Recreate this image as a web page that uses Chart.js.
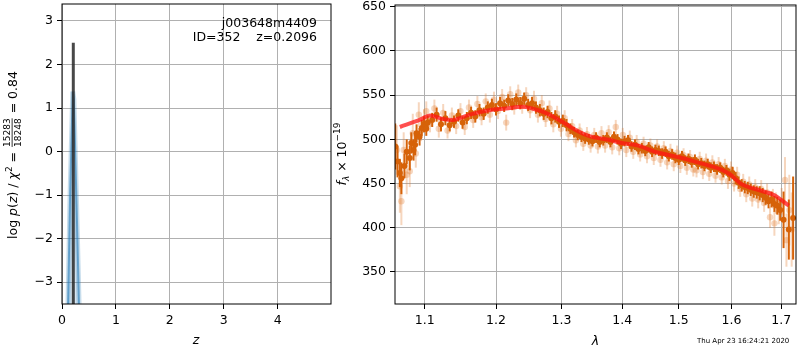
<!DOCTYPE html>
<html>
<head>
<meta charset="utf-8">
<script src="https://cdn.jsdelivr.net/npm/chart.js@4.4.1/dist/chart.umd.min.js"></script>
<style>
  html, body { margin: 0; padding: 0; background: #fff; }
  #wrap { position: relative; width: 800px; height: 350px; overflow: hidden; }
  #pzBox { position: absolute; left: 0; top: 0; width: 340px; height: 350px; }
  #specBox { position: absolute; left: 330px; top: 0; width: 470px; height: 350px; }
</style>
</head>
<body>
<div id="wrap">
  <div id="pzBox"><canvas id="pz" width="340" height="350"></canvas></div>
  <div id="specBox"><canvas id="spec" width="470" height="350"></canvas></div>
</div>
<script>
// ---- p(z) panel ----
const zGrid = [0.10, 0.15, 0.20, 0.22, 0.27, 0.33];
const logPz = [-4.3, -1.0, 1.38, 1.2, -1.2, -4.2];
const zBest = 0.2096;
const zBestLine = [-3.6, 2.5];
const pzXTicks = [0, 1, 2, 3, 4];
const pzYTicks = [-3, -2, -1, 0, 1, 2, 3];

// ---- spectrum panel ----
// combined spectrum (dark points)
const combWave = [
  1.061, 1.064, 1.067, 1.069, 1.073, 1.076, 1.080, 1.082, 1.085, 1.087,
  1.089, 1.093, 1.096, 1.099, 1.102, 1.104, 1.110, 1.116, 1.122, 1.128,
  1.134, 1.140, 1.146, 1.152, 1.158, 1.164, 1.170, 1.176, 1.182, 1.188,
  1.194, 1.200, 1.206, 1.212, 1.218, 1.224, 1.230, 1.236, 1.242, 1.248,
  1.254, 1.260, 1.266, 1.272, 1.278, 1.284, 1.290, 1.296, 1.302, 1.308,
  1.314, 1.320, 1.326, 1.332, 1.338, 1.344, 1.350, 1.356, 1.362, 1.368,
  1.374, 1.380, 1.386, 1.392, 1.398, 1.404, 1.410, 1.416, 1.422, 1.428,
  1.434, 1.440, 1.446, 1.452, 1.458, 1.464, 1.470, 1.476, 1.482, 1.488,
  1.494, 1.500, 1.506, 1.512, 1.518, 1.524, 1.530, 1.536, 1.542, 1.548,
  1.554, 1.560, 1.566, 1.572, 1.578, 1.584, 1.590, 1.596, 1.602, 1.608,
  1.614, 1.620, 1.626, 1.632, 1.638, 1.644, 1.650, 1.656, 1.662, 1.668,
  1.674, 1.680, 1.686, 1.692, 1.698, 1.705, 1.716, 1.725
];
const combFlux = [
  492, 475, 462, 456, 470, 486, 479, 496, 488, 494,
  507, 503, 513, 517, 512, 519, 522, 528, 517, 524,
  516, 520, 527, 519, 524, 530, 526, 533, 529, 536,
  539, 534, 541, 538, 544, 540, 545, 541, 546, 539,
  541, 536, 533, 529, 531, 524, 526, 520, 521, 516,
  512, 508, 505, 503, 501, 500, 498, 502, 497, 499,
  502, 497, 503, 500, 495, 498, 499, 492, 494, 489,
  490, 487, 491, 486, 488, 487, 484, 486, 481, 483,
  479, 477, 481, 476, 478, 474, 477, 472, 473, 470,
  472, 468, 469, 466, 468, 463, 465, 460, 462, 456,
  451, 448, 446, 445, 443, 441, 440, 439, 437, 434,
  430, 432, 427, 425, 420, 409, 398, 411
];
const combErr = [
  26, 18, 16, 18, 14, 14, 14, 12, 12, 12,
  10, 10, 9, 9, 8, 8, 8, 8, 8, 8,
  7, 7, 7, 7, 7, 7, 7, 7, 7, 7,
  7, 7, 7, 7, 7, 7, 7, 7, 7, 7,
  7, 7, 7, 7, 7, 7, 7, 7, 7, 7,
  6, 6, 6, 6, 6, 6, 6, 6, 6, 6,
  6, 6, 6, 6, 6, 6, 6, 6, 6, 6,
  6, 6, 6, 6, 6, 6, 6, 6, 6, 6,
  6, 6, 6, 6, 6, 6, 6, 6, 6, 6,
  6, 6, 6, 6, 6, 6, 6, 7, 7, 7,
  7, 7, 7, 7, 7, 7, 7, 8, 8, 8,
  8, 9, 9, 10, 12, 32, 34, 47
];

// individual beam spectra (light points)
const beamWave = [
  1.063, 1.067, 1.069, 1.072, 1.076, 1.080, 1.084, 1.088, 1.092, 1.095,
  1.099, 1.102, 1.107, 1.113, 1.119, 1.125, 1.131, 1.137, 1.143, 1.149,
  1.155, 1.161, 1.167, 1.173, 1.179, 1.185, 1.191, 1.197, 1.203, 1.209,
  1.215, 1.221, 1.227, 1.233, 1.239, 1.245, 1.251, 1.257, 1.263, 1.269,
  1.275, 1.281, 1.287, 1.293, 1.299, 1.305, 1.311, 1.317, 1.323, 1.329,
  1.335, 1.341, 1.347, 1.353, 1.359, 1.365, 1.371, 1.377, 1.383, 1.389,
  1.395, 1.401, 1.407, 1.413, 1.419, 1.425, 1.431, 1.437, 1.443, 1.449,
  1.455, 1.461, 1.467, 1.473, 1.479, 1.485, 1.491, 1.497, 1.503, 1.509,
  1.515, 1.521, 1.527, 1.533, 1.539, 1.545, 1.551, 1.557, 1.563, 1.569,
  1.575, 1.581, 1.587, 1.593, 1.599, 1.605, 1.611, 1.617, 1.623, 1.629,
  1.635, 1.641, 1.647, 1.653, 1.659, 1.665, 1.671, 1.677, 1.683, 1.686,
  1.689, 1.695, 1.701, 1.708, 1.711, 1.717, 1.722
];
const beamFlux = [
  488, 447, 430, 488, 460, 464, 507, 484, 528, 510,
  522, 532, 518, 535, 512, 530, 510, 527, 515, 532,
  514, 536, 522, 540, 525, 543, 528, 545, 532, 548,
  519, 551, 537, 553, 538, 550, 533, 546, 528, 541,
  523, 535, 517, 529, 512, 524, 506, 515, 499, 510,
  495, 506, 493, 505, 492, 507, 493, 508, 491, 514,
  490, 505, 488, 502, 486, 497, 483, 495, 481, 493,
  479, 492, 477, 490, 474, 487, 472, 485, 470, 482,
  468, 480, 466, 465, 478, 463, 476, 461, 474, 459,
  472, 457, 470, 453, 466, 450, 460, 444, 452, 438,
  449, 433, 446, 432, 444, 428, 440, 412, 433, 405,
  428, 418, 430, 454, 386, 420, 398
];
const beamErr = [
  28, 30, 27, 20, 22, 18, 22, 16, 14, 12,
  12, 11, 10, 10, 10, 10, 9, 9, 9, 9,
  9, 9, 9, 9, 9, 9, 9, 9, 9, 9,
  9, 9, 9, 9, 9, 9, 9, 9, 9, 9,
  9, 9, 9, 9, 9, 9, 8, 8, 8, 8,
  8, 8, 8, 8, 8, 8, 8, 8, 8, 8,
  8, 8, 8, 8, 8, 8, 8, 8, 8, 8,
  8, 8, 8, 8, 8, 8, 8, 8, 8, 8,
  8, 8, 8, 8, 8, 8, 8, 8, 8, 8,
  8, 8, 8, 9, 9, 9, 9, 9, 9, 9,
  9, 9, 9, 10, 10, 10, 10, 12, 11, 14,
  12, 14, 15, 26, 30, 40, 42
];

// best-fit template
const modelWave = [1.067, 1.093, 1.107, 1.125, 1.138, 1.162, 1.190, 1.215, 1.239, 1.254,
  1.275, 1.301, 1.322, 1.344, 1.377, 1.399, 1.428, 1.457, 1.499, 1.535,
  1.579, 1.598, 1.618, 1.658, 1.685, 1.716];
const modelFlux = [514, 522, 527, 523, 522, 528, 533, 535, 537, 535,
  530, 520, 511, 504, 499.5, 496, 493, 486, 480, 474,
  466, 460, 450, 442, 437, 425];

const specXTicks = [1.1, 1.2, 1.3, 1.4, 1.5, 1.6, 1.7];
const specYTicks = [350, 400, 450, 500, 550, 600, 650];

const objName = 'j003648m4409';
const objInfo = 'ID=352    z=0.2096';
const chi2Num = '15283', chi2Den = '18248', chi2Val = '0.84';
const stamp = 'Thu Apr 23 16:24:21 2020';

// ---- helpers ----
const FAM = '"DejaVu Sans"';
const fMain = '12.5px ' + FAM;
const fIt = 'italic 12.5px ' + FAM;
const fSmall = '9px ' + FAM;
const fSmallIt = 'italic 9px ' + FAM;

const minus = v => String(v).replace('-', '\u2212');

function pts(xs, ys) {
  return xs.map((x, i) => ({ x: x, y: ys[i] }));
}

function fixedTicks(list) {
  return function (scale) { scale.ticks = list.map(v => ({ value: v })); };
}

// fixed axis thickness, and no extra label padding around the plot box
function fitAxis(size) {
  return function (s) {
    if (s.isHorizontal()) s.height = size; else s.width = size;
    s.paddingTop = 0; s.paddingBottom = 0; s.paddingLeft = 0; s.paddingRight = 0;
  };
}

function runWidth(ctx, r) {
  ctx.font = r.font;
  if (r.frac) {
    return Math.max(ctx.measureText(r.frac[0]).width, ctx.measureText(r.frac[1]).width) + 2;
  }
  return ctx.measureText(r.text).width;
}

// draws a sequence of text runs rotated by -90 deg, centred on (cx, cy), baseline at cx
function drawVertical(ctx, cx, cy, runs) {
  ctx.save();
  ctx.translate(cx, cy);
  ctx.rotate(-Math.PI / 2);
  ctx.fillStyle = '#000';
  ctx.textBaseline = 'alphabetic';
  ctx.textAlign = 'left';
  let total = 0;
  runs.forEach(r => { total += runWidth(ctx, r); });
  let x = -total / 2;
  runs.forEach(r => {
    const w = runWidth(ctx, r);
    ctx.font = r.font;
    if (r.frac) {
      ctx.textAlign = 'center';
      ctx.fillText(r.frac[0], x + w / 2, -7.5);
      ctx.fillText(r.frac[1], x + w / 2, 3.5);
      ctx.fillRect(x + 1, -5.3, w - 2, 0.8);
      ctx.textAlign = 'left';
    } else {
      ctx.fillText(r.text, x, r.dy || 0);
    }
    x += w;
  });
  ctx.restore();
}

function frame(ctx, a) {
  ctx.save();
  ctx.strokeStyle = '#000';
  ctx.lineWidth = 1;
  ctx.strokeRect(a.left, a.top, a.right - a.left, a.bottom - a.top);
  ctx.restore();
}

const errorBars = {
  id: 'errorBars',
  beforeDatasetDraw(chart, args) {
    const ds = chart.data.datasets[args.index];
    if (!ds.errors) return;
    const { ctx, chartArea, scales } = chart;
    ctx.save();
    ctx.beginPath();
    ctx.rect(chartArea.left, chartArea.top, chartArea.right - chartArea.left, chartArea.bottom - chartArea.top);
    ctx.clip();
    ctx.strokeStyle = ds.errorColor;
    ctx.lineWidth = ds.errorWidth;
    ds.data.forEach((p, i) => {
      const x = scales.x.getPixelForValue(p.x);
      const y1 = scales.y.getPixelForValue(p.y - ds.errors[i]);
      const y2 = scales.y.getPixelForValue(p.y + ds.errors[i]);
      ctx.beginPath();
      ctx.moveTo(x, y1);
      ctx.lineTo(x, y2);
      ctx.stroke();
    });
    ctx.restore();
  }
};

function axisStyle(extra) {
  return Object.assign({
    grid: { color: '#b0b0b0', lineWidth: 1, tickLength: 5, tickColor: '#000', drawTicks: true },
    border: { display: false },
    ticks: { color: '#000', font: { family: 'DejaVu Sans', size: 12.5 }, padding: 4,
      maxRotation: 0, autoSkip: false }
  }, extra);
}

Chart.defaults.font.family = 'DejaVu Sans';

// ---- left: p(z) ----
const pzDecor = {
  id: 'pzDecor',
  afterDraw(chart) {
    const ctx = chart.ctx;
    frame(ctx, chart.chartArea);
    ctx.save();
    ctx.fillStyle = '#000';
    ctx.font = fMain;
    ctx.textAlign = 'right';
    ctx.fillText(objName, 317, 27);
    ctx.fillText(objInfo, 317, 41);
    ctx.font = fIt;
    ctx.textAlign = 'center';
    ctx.fillText('z', 196, 344);
    ctx.restore();
    drawVertical(ctx, 17, 155, [
      { text: 'log ', font: fMain },
      { text: 'p', font: fIt },
      { text: '(', font: fMain },
      { text: 'z', font: fIt },
      { text: ') / ', font: fMain },
      { text: '\u03c7', font: fIt },
      { text: '2', font: fSmall, dy: -5 },
      { text: ' = ', font: fMain },
      { frac: [chi2Num, chi2Den], font: fSmall },
      { text: ' = ' + chi2Val, font: fMain }
    ]);
  }
};

const pzY = axisStyle({ type: 'linear', min: -3.5, max: 3.39,
  afterBuildTicks: fixedTicks(pzYTicks), afterFit: fitAxis(62) });
pzY.ticks = Object.assign({}, pzY.ticks, { callback: v => minus(v) });

new Chart(document.getElementById('pz'), {
  type: 'scatter',
  data: {
    datasets: [
      { data: pts([zBest, zBest], zBestLine), showLine: true, pointRadius: 0,
        borderColor: 'rgba(40,40,40,0.85)', borderWidth: 3 },
      { data: pts(zGrid, logPz), showLine: true, pointRadius: 0,
        borderColor: 'rgba(31,119,180,0.55)', borderWidth: 2 },
      { data: pts(zGrid, logPz), showLine: true, pointRadius: 0, fill: 'start',
        borderColor: 'rgba(31,119,180,0.25)', borderWidth: 5,
        backgroundColor: 'rgba(31,119,180,0.18)' }
    ]
  },
  options: {
    responsive: false, animation: false, devicePixelRatio: 1,
    layout: { padding: { left: 0, right: 9, top: 4, bottom: 0 } },
    plugins: { legend: { display: false }, tooltip: { enabled: false } },
    scales: {
      x: axisStyle({ type: 'linear', min: 0, max: 4.99,
        afterBuildTicks: fixedTicks(pzXTicks), afterFit: fitAxis(46) }),
      y: pzY
    }
  },
  plugins: [pzDecor]
});

// ---- right: spectrum ----
const specDecor = {
  id: 'specDecor',
  afterDraw(chart) {
    const ctx = chart.ctx;
    frame(ctx, chart.chartArea);
    ctx.save();
    ctx.fillStyle = '#000';
    ctx.font = fIt;
    ctx.textAlign = 'center';
    const a = chart.chartArea;
    ctx.fillText('\u03bb', (a.left + a.right) / 2, 345);
    ctx.font = '7px ' + FAM;
    ctx.textAlign = 'left';
    ctx.fillText(stamp, 697 - 330, 343);
    ctx.restore();
    drawVertical(ctx, 346 - 330, 154, [
      { text: 'f', font: fIt },
      { text: '\u03bb', font: fSmallIt, dy: 3 },
      { text: ' \u00d7 10', font: fMain },
      { text: '\u221219', font: fSmall, dy: -6 }
    ]);
  }
};

const specX = axisStyle({ type: 'logarithmic', min: 1.0607, max: 1.7311,
  afterBuildTicks: fixedTicks(specXTicks), afterFit: fitAxis(46) });
specX.ticks = Object.assign({}, specX.ticks, { callback: v => Number(v).toFixed(1) });

new Chart(document.getElementById('spec'), {
  type: 'scatter',
  data: {
    datasets: [
      { data: pts(modelWave, modelFlux), showLine: true, pointRadius: 0,
        borderColor: 'rgba(255,20,20,0.75)', borderWidth: 4, cubicInterpolationMode: 'monotone' },
      { data: pts(combWave, combFlux), errors: combErr,
        errorColor: 'rgb(214,98,8)', errorWidth: 2,
        pointRadius: 3, pointBorderWidth: 0, backgroundColor: 'rgb(214,98,8)' },
      { data: pts(beamWave, beamFlux), errors: beamErr,
        errorColor: 'rgba(226,120,40,0.3)', errorWidth: 2,
        pointRadius: 3.2, pointBorderWidth: 0, backgroundColor: 'rgba(226,120,40,0.3)' }
    ]
  },
  options: {
    responsive: false, animation: false, devicePixelRatio: 1,
    layout: { padding: { left: 0, right: 1, top: 5, bottom: 0 } },
    plugins: { legend: { display: false }, tooltip: { enabled: false } },
    scales: {
      x: specX,
      y: axisStyle({ type: 'linear', min: 313.8, max: 652,
        afterBuildTicks: fixedTicks(specYTicks), afterFit: fitAxis(65) })
    }
  },
  plugins: [errorBars, specDecor]
});
</script>
</body>
</html>
